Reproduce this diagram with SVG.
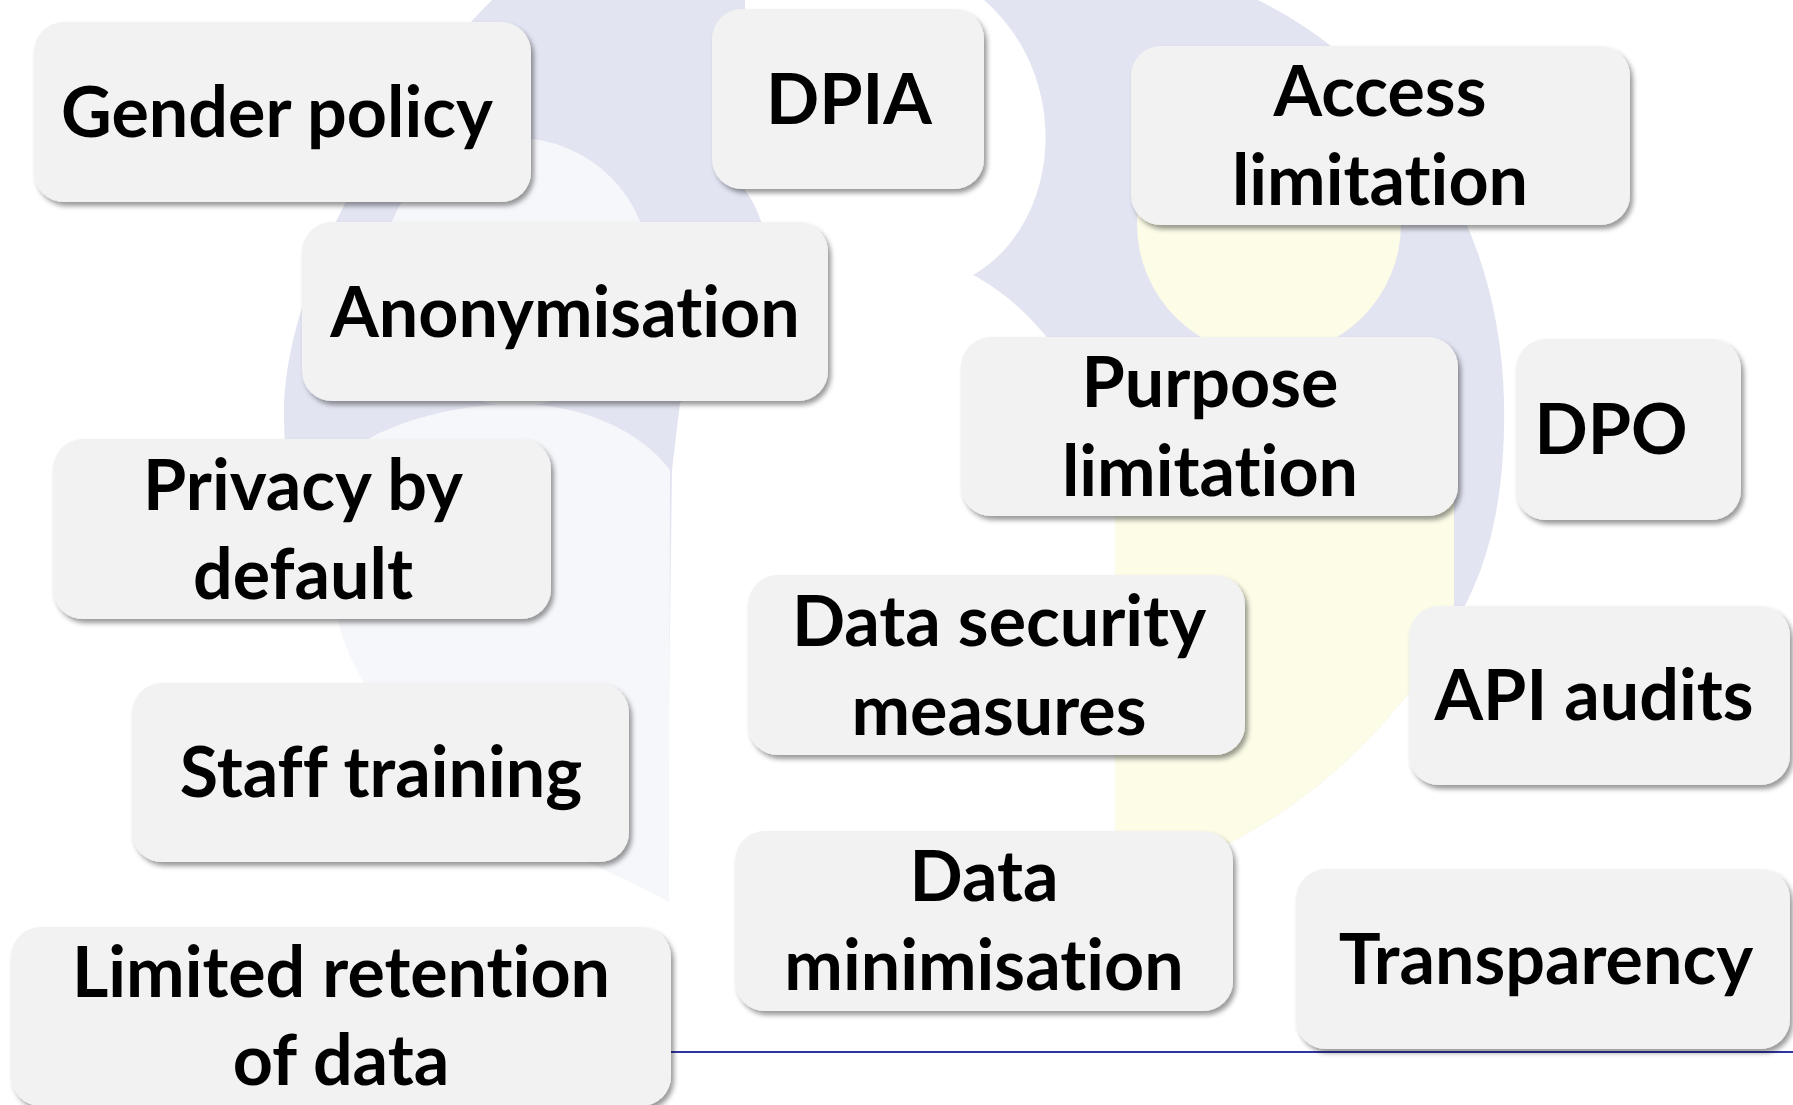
<svg xmlns="http://www.w3.org/2000/svg" width="1793" height="1105" viewBox="0 0 1793 1105">
<defs>
<style>
.box{fill:#f2f2f2;filter:url(#sh)}
.t{font-family:Lato,"Open Sans","Liberation Sans",sans-serif;font-weight:700;font-size:70px;fill:#000;text-anchor:middle;font-variant-ligatures:none;font-feature-settings:"liga" 0,"clig" 0}
.lav{fill:#e2e4f2}
.lite{fill:#f6f7fb}
.yel{fill:#fcfce7}
</style>
<filter id="sh" x="-10%" y="-10%" width="130%" height="130%">
<feDropShadow dx="3" dy="4" stdDeviation="2.5" flood-color="#000" flood-opacity="0.4"/>
</filter>
</defs>
<rect width="1793" height="1105" fill="#fff"/>
<g id="background">
<path class="lav" d="M492,0 L745,0 L745,190 C752,200 758,210 762,225 C770,300 730,370 680,403 L672,470 L669,700 L340,620 C300,580 284,490 284,412 C284,290 380,110 492,0 Z"/>
<path class="lav" d="M984,0 L1258,0 C1400,70 1500,220 1504,400 C1506,500 1488,570 1454,625 C1400,720 1320,800 1212,852 L1115,852 L1115,520 C1110,400 1040,310 973,275 C1060,225 1075,80 984,0 Z"/>
<circle class="lite" cx="516" cy="272" r="134"/>
<path class="lite" d="M518,404 C580,404 640,430 670,470 L669,902 C650,892 625,880 597,866 C520,840 420,770 367,688 C350,660 336,630 332,580 C326,530 335,470 365,441 C400,420 460,404 518,404 Z"/>
<circle class="yel" cx="1269" cy="224" r="132"/>
<path class="yel" d="M1115,400 L1454,400 L1454,625 C1400,720 1320,800 1212,852 L1115,852 Z"/>
<line x1="671" y1="1052" x2="1793" y2="1052" stroke="#2f35a0" stroke-width="2"/>
</g>
<g id="connectors"></g>
<g id="n-gender"><rect class="box" x="34" y="22" width="497" height="180" rx="30"/><text class="t" x="277" y="137">Gender policy</text></g>
<g id="n-dpia"><rect class="box" x="712" y="9" width="272" height="180" rx="30"/><text class="t" x="849" y="124">DPIA</text></g>
<g id="n-access"><rect class="box" x="1131" y="46" width="499" height="179" rx="30"/><text class="t" x="1380" y="116">Access</text><text class="t" x="1380" y="205">limitation</text></g>
<g id="n-anon"><rect class="box" x="302" y="222" width="526" height="179" rx="30"/><text class="t" x="565" y="337">Anonymisation</text></g>
<g id="n-purpose"><rect class="box" x="961" y="337" width="497" height="179" rx="30"/><text class="t" x="1210" y="407">Purpose</text><text class="t" x="1210" y="496">limitation</text></g>
<g id="n-dpo"><rect class="box" x="1516" y="339" width="225" height="181" rx="30"/><text class="t" x="1611" y="454">DPO</text></g>
<g id="n-privacy"><rect class="box" x="53" y="439" width="498" height="180" rx="30"/><text class="t" x="303" y="510">Privacy by</text><text class="t" x="303" y="599">default</text></g>
<g id="n-security"><rect class="box" x="748" y="575" width="497" height="180" rx="30"/><text class="t" x="999" y="646">Data security</text><text class="t" x="999" y="735">measures</text></g>
<g id="n-api"><rect class="box" x="1409" y="606" width="381" height="179" rx="30"/><text class="t" x="1594" y="720">API audits</text></g>
<g id="n-staff"><rect class="box" x="132" y="683" width="497" height="179" rx="30"/><text class="t" x="381" y="797">Staff training</text></g>
<g id="n-datamin"><rect class="box" x="735" y="831" width="498" height="180" rx="30"/><text class="t" x="984" y="901">Data</text><text class="t" x="984" y="990">minimisation</text></g>
<g id="n-transparency"><rect class="box" x="1296" y="869" width="494" height="180" rx="30"/><text class="t" x="1546" y="984">Transparency</text></g>
<g id="n-retention"><rect class="box" x="11" y="927" width="660" height="179" rx="30"/><text class="t" x="341" y="997">Limited retention</text><text class="t" x="341" y="1085">of data</text></g>
</svg>
